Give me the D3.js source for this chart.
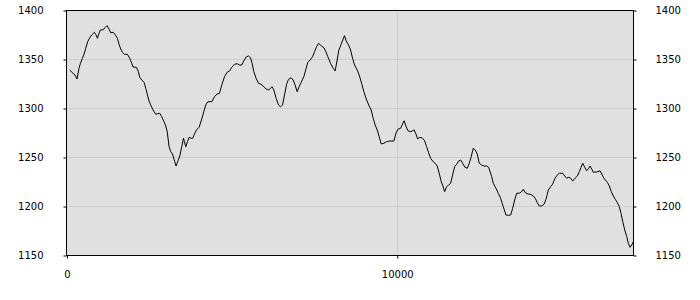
<!DOCTYPE html>
<html>
<head>
<meta charset="utf-8">
<script src="https://d3js.org/d3.v7.min.js"></script>
<style>
  body { margin: 0; background: #fff; }
  text { font-family: "DejaVu Sans", Verdana, sans-serif; font-size: 10px; fill: #000; }
</style>
</head>
<body>
<div id="chart"></div>
<script>
// series
var xs = [80, 182, 242, 303, 364, 406, 467, 515, 567, 627, 688, 748, 830, 870, 921, 970, 1012, 1091, 1151, 1212,
  1273, 1324, 1394, 1454, 1527, 1576, 1627, 1679, 1739, 1830, 1900, 1960, 2000, 2103, 2163, 2203, 2263, 2333, 2385, 2436,
  2485, 2545, 2606, 2688, 2748, 2809, 2869, 2939, 2991, 3036, 3091, 3142, 3194, 3242, 3303, 3363, 3415, 3475, 3527, 3557,
  3597, 3648, 3697, 3757, 3809, 3860, 3921, 4000, 4072, 4142, 4203, 4263, 4384, 4466, 4545, 4618, 4687, 4769, 4848, 4921,
  4990, 5072, 5151, 5224, 5293, 5354, 5424, 5496, 5557, 5606, 5657, 5727, 5799, 5878, 5960, 6030, 6102, 6163, 6212, 6263,
  6333, 6405, 6466, 6527, 6587, 6648, 6708, 6787, 6848, 6908, 6969, 7030, 7090, 7172, 7242, 7293, 7363, 7436, 7496, 7557,
  7617, 7696, 7778, 7839, 7899, 7981, 8060, 8120, 8181, 8233, 8302, 8363, 8405, 8454, 8526, 8587, 8648, 8708, 8787, 8848,
  8920, 8990, 9072, 9151, 9211, 9272, 9332, 9393, 9454, 9514, 9596, 9678, 9778, 9899, 9960, 10020, 10102, 10163, 10211, 10263,
  10323, 10405, 10466, 10514, 10566, 10617, 10687, 10769, 10829, 10890, 10950, 11011, 11090, 11150, 11211, 11272, 11332, 11375, 11435, 11496,
  11556, 11617, 11678, 11738, 11799, 11860, 11920, 11981, 12050, 12120, 12181, 12241, 12302, 12362, 12423, 12484, 12556, 12626, 12708, 12769,
  12860, 12908, 12990, 13059, 13132, 13211, 13293, 13374, 13435, 13496, 13556, 13617, 13696, 13756, 13817, 13877, 13959, 14041, 14120, 14180,
  14241, 14302, 14374, 14444, 14505, 14574, 14647, 14708, 14777, 14847, 14908, 15011, 15071, 15132, 15192, 15253, 15314, 15384, 15453, 15514,
  15566, 15617, 15678, 15738, 15799, 15838, 15890, 15938, 16020, 16081, 16141, 16193, 16241, 16301, 16362, 16423, 16483, 16544, 16604, 16665,
  16726, 16777, 16829, 16889, 16950, 16998, 17050, 17101, 17150]
var ys = [1338.8, 1335.4, 1333.7, 1329.6, 1340.5, 1345.6, 1350.7, 1354.8, 1360.9, 1367.7, 1371.7, 1374.5, 1377.2, 1375.2, 1371.1, 1376.2, 1379.6, 1379.9, 1381.9, 1384.0,
  1380.6, 1376.8, 1377.2, 1375.2, 1371.1, 1365.0, 1360.2, 1356.8, 1354.8, 1354.8, 1350.7, 1345.6, 1341.8, 1341.5, 1337.0, 1331.3, 1328.6, 1326.2, 1320.1, 1313.3,
  1307.1, 1302.3, 1298.0, 1293.6, 1294.2, 1294.6, 1291.1, 1286.0, 1281.6, 1275.5, 1260.5, 1255.4, 1253.1, 1247.7, 1240.8, 1246.2, 1251.0, 1260.5, 1269.1, 1265.6,
  1260.5, 1265.6, 1270.1, 1269.1, 1269.1, 1273.5, 1277.6, 1280.3, 1287.8, 1296.2, 1303.1, 1306.4, 1306.4, 1311.5, 1314.3, 1315.0, 1323.5, 1331.9, 1336.4, 1337.8,
  1341.5, 1344.6, 1345.2, 1343.9, 1343.9, 1348.0, 1352.0, 1353.1, 1351.3, 1345.6, 1337.0, 1330.3, 1325.2, 1324.2, 1321.7, 1319.4, 1318.4, 1320.1, 1321.7, 1318.4,
  1309.9, 1303.1, 1301.3, 1303.1, 1313.3, 1324.2, 1329.3, 1330.9, 1328.6, 1323.5, 1316.6, 1321.7, 1326.2, 1331.9, 1340.5, 1346.6, 1349.0, 1352.3, 1357.4, 1362.6,
  1366.0, 1363.6, 1361.5, 1357.4, 1352.3, 1345.6, 1340.5, 1337.8, 1349.0, 1359.2, 1365.0, 1370.4, 1373.8, 1368.4, 1364.3, 1359.2, 1350.7, 1343.9, 1338.8, 1333.7,
  1325.2, 1316.6, 1308.2, 1302.0, 1298.0, 1289.5, 1282.7, 1277.6, 1270.7, 1263.3, 1264.0, 1265.6, 1266.3, 1266.3, 1274.2, 1278.3, 1279.3, 1283.7, 1287.0, 1281.6,
  1276.8, 1275.8, 1276.8, 1277.6, 1273.5, 1268.4, 1270.1, 1269.1, 1266.6, 1260.5, 1254.4, 1248.7, 1245.2, 1243.6, 1240.8, 1233.4, 1224.8, 1221.4, 1214.6, 1219.7,
  1221.4, 1223.2, 1231.6, 1240.1, 1242.5, 1245.9, 1246.9, 1243.6, 1239.5, 1238.5, 1243.6, 1250.3, 1258.9, 1257.1, 1253.1, 1243.6, 1241.8, 1240.8, 1240.8, 1239.5,
  1230.0, 1223.2, 1218.1, 1213.0, 1207.9, 1199.3, 1190.8, 1190.5, 1190.8, 1197.7, 1206.1, 1213.0, 1213.0, 1214.3, 1217.0, 1213.6, 1212.2, 1211.9, 1210.2, 1207.9,
  1203.4, 1200.0, 1200.0, 1201.7, 1206.8, 1216.3, 1219.7, 1222.4, 1228.3, 1231.6, 1233.4, 1233.4, 1230.6, 1228.3, 1229.3, 1228.3, 1225.5, 1228.3, 1230.6, 1235.0,
  1239.5, 1243.6, 1239.5, 1236.0, 1238.5, 1240.8, 1237.8, 1234.4, 1234.7, 1235.0, 1236.0, 1232.7, 1229.3, 1226.5, 1224.2, 1220.4, 1214.6, 1210.2, 1206.8, 1203.4,
  1199.3, 1192.5, 1184.0, 1175.5, 1168.7, 1161.9, 1157.9, 1160.2, 1163.6]

var yTicks = [1150, 1200, 1250, 1300, 1350, 1400]
var xTicks = [0, 10000]

var W = 700, H = 300
var plotL = 66.5, plotR = 633.5, plotT = 10.5, plotB = 255.5

var svg = d3.select("#chart").append("svg")
  .attr("width", W)
  .attr("height", H)

var x = d3.scaleLinear().domain([0, 17170]).range([67, 634])
var y = d3.scaleLinear().domain([1150, 1400]).range([255, 10])

// plot background
svg.append("rect")
  .attr("x", plotL).attr("y", plotT)
  .attr("width", plotR - plotL).attr("height", plotB - plotT)
  .attr("fill", "#e0e0e0")

// grid
svg.append("g").selectAll("line")
  .data(yTicks.filter(function(d) { return d > 1150 && d < 1400 }))
  .enter().append("line")
  .attr("x1", plotL).attr("x2", plotR)
  .attr("y1", function(d) { return Math.round(y(d)) + 0.5 })
  .attr("y2", function(d) { return Math.round(y(d)) + 0.5 })
  .attr("stroke", "#cecece")
svg.append("g").selectAll("line")
  .data(xTicks.filter(function(d) { return d > 0 }))
  .enter().append("line")
  .attr("y1", plotT).attr("y2", plotB)
  .attr("x1", function(d) { return Math.round(x(d)) + 0.5 })
  .attr("x2", function(d) { return Math.round(x(d)) + 0.5 })
  .attr("stroke", "#cecece")

// the series
var pts = xs.map(function(d, i) { return [d, ys[i]] })
svg.append("path")
  .datum(pts)
  .attr("fill", "none")
  .attr("stroke", "#000")
  .attr("stroke-width", 1)
  .attr("d", d3.line().x(function(d) { return x(d[0]) }).y(function(d) { return y(d[1]) }))

// axes
var yl = d3.axisLeft(y).tickValues(yTicks).tickSize(3).tickPadding(20).tickFormat(d3.format("d"))
var yr = d3.axisRight(y).tickValues(yTicks).tickSize(3).tickPadding(19).tickFormat(d3.format("d"))
var xb = d3.axisBottom(x).tickValues(xTicks).tickSize(3).tickPadding(12).tickFormat(d3.format("d"))

function styleAxis(g) {
  g.select(".domain").remove()
  g.selectAll(".tick line").attr("stroke", "#000")
  g.selectAll("text").attr("font-family", null).attr("font-size", null)
}
svg.append("g").attr("transform", "translate(" + plotL + ",0.5)").call(yl).call(styleAxis)
svg.append("g").attr("transform", "translate(" + plotR + ",0.5)").call(yr).call(styleAxis)
svg.append("g").attr("transform", "translate(0," + plotB + ")").call(xb).call(styleAxis)

// frame
svg.append("rect")
  .attr("x", plotL).attr("y", plotT)
  .attr("width", plotR - plotL).attr("height", plotB - plotT)
  .attr("fill", "none")
  .attr("stroke", "#000")
</script>
</body>
</html>
